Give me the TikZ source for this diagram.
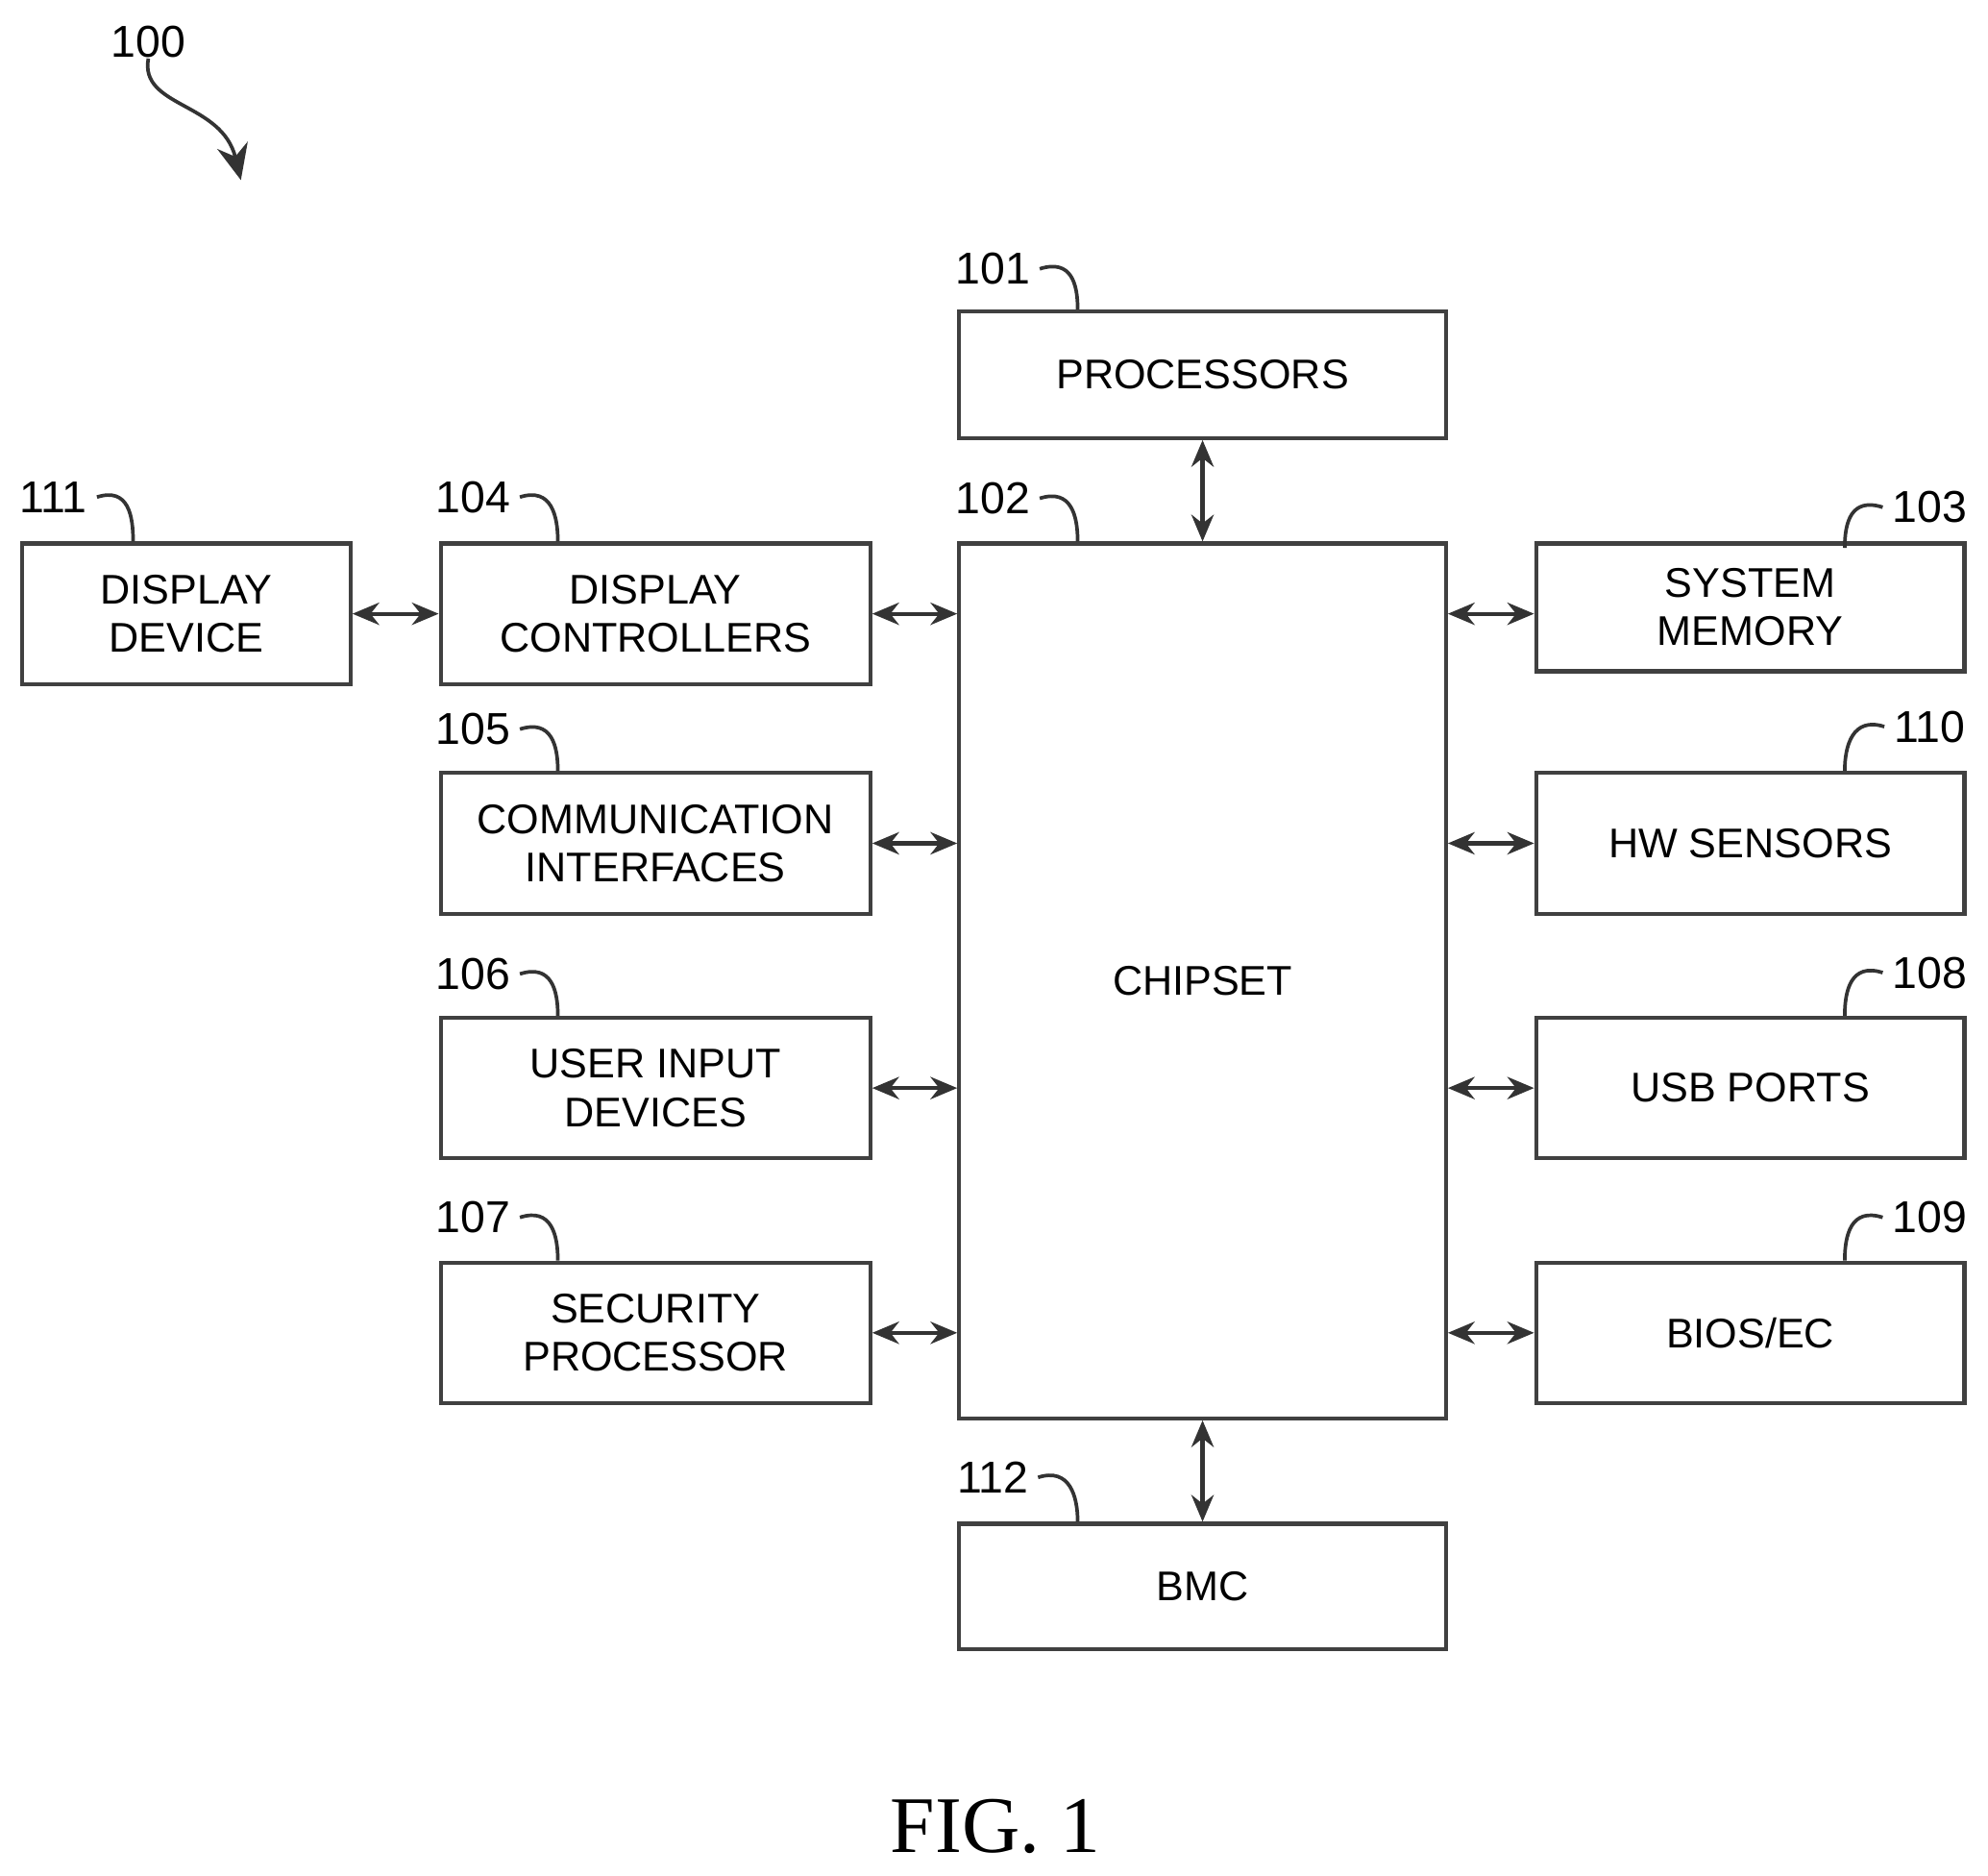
\documentclass[tikz,border=0pt]{standalone}
\usepackage{fontspec}
\setmainfont{Liberation Sans}
\usetikzlibrary{arrows.meta}
\begin{document}
\begin{tikzpicture}[x=0.01cm,y=-0.01cm,
 box/.style={draw=black!75,line width=0.9pt,inner sep=0pt,align=center,font=\fontsize{9.3}{10.8}\selectfont},
 lbl/.style={font=\fontsize{10}{11}\selectfont,inner sep=0pt},
 con/.style={{Stealth[length=6pt,width=5pt]}-{Stealth[length=6pt,width=5pt]},line width=0.9pt,black!80},
 lead/.style={line width=0.8pt,black!80}]
\useasboundingbox (0,0) rectangle (1568,1479);
\newcommand{\bx}[6]{\node[box,minimum width=#4*0.01cm-0.9pt,minimum height=#5*0.01cm-0.9pt] (#1) at (#2,#3) {#6};}
\bx{proc}{948.5}{295.5}{387}{103}{PROCESSORS}
\bx{chip}{948.5}{773.5}{387}{693}{CHIPSET}
\bx{bmc}{948.5}{1251}{387}{102}{BMC}
\bx{disp}{147}{484}{262}{114}{DISPLAY\\DEVICE}
\bx{dctl}{517}{484}{342}{114}{DISPLAY\\CONTROLLERS}
\bx{comm}{517}{665}{342}{114}{COMMUNICATION\\INTERFACES}
\bx{uid}{517}{858}{342}{114}{USER INPUT\\DEVICES}
\bx{sec}{517}{1051}{342}{114}{SECURITY\\PROCESSOR}
\bx{mem}{1380.5}{479}{341}{104}{SYSTEM\\MEMORY}
\bx{hw}{1380.5}{665}{341}{114}{HW SENSORS}
\bx{usb}{1380.5}{858}{341}{114}{USB PORTS}
\bx{bios}{1380.5}{1051}{341}{114}{BIOS/EC}
\draw[con] (proc.south) -- (chip.north);
\draw[con] (chip.south) -- (bmc.north);
\draw[con] (disp.east) -- (dctl.west);
\draw[con] (dctl.east) -- (chip.west |- dctl.east);
\draw[con] (comm.east) -- (chip.west |- comm.east);
\draw[con] (uid.east) -- (chip.west |- uid.east);
\draw[con] (sec.east) -- (chip.west |- sec.east);
\draw[con] (chip.east |- hw.west) -- (hw.west);
\draw[con] (chip.east |- usb.west) -- (usb.west);
\draw[con] (chip.east |- bios.west) -- (bios.west);
\coordinate (memc) at (1210,484);
\draw[con] (chip.east |- memc) -- (memc);
\node[lbl] (l100) at (117,33) {100};
\coordinate (a100) at (190,142);
\draw[lead,-{Stealth[length=8pt,width=7pt]}] (l100.south) .. controls (110,85) and (175,80) .. (a100);
\newcommand{\lab}[5]{\node[lbl] (#1) at (#2,#3) {#4}; \draw[lead] ([xshift=2pt]#1.east) .. controls ++(25,-8) and ++(0,-20) .. #5;}
\lab{l101}{783}{212}{101}{(850,244)}
\lab{l102}{783}{393}{102}{(850,427)}
\lab{l104}{373}{392}{104}{(440,427)}
\lab{l105}{373}{575}{105}{(440,608)}
\lab{l106}{373}{768}{106}{(440,801)}
\lab{l107}{373}{960}{107}{(440,994)}
\lab{l111}{42}{392}{111}{(105,427)}
\lab{l112}{783}{1165}{112}{(850,1200)}
\newcommand{\labr}[5]{\node[lbl] (#1) at (#2,#3) {#4}; \draw[lead] ([xshift=-2pt]#1.west) .. controls ++(-25,-8) and ++(0,-20) .. #5;}
\labr{l103}{1522}{400}{103}{(1455,432)}
\labr{l110}{1522}{573}{110}{(1455,608)}
\labr{l108}{1522}{767}{108}{(1455,801)}
\labr{l109}{1522}{960}{109}{(1455,994)}
\node[font=\fontspec{Liberation Serif}\fontsize{18}{20}\selectfont,inner sep=0pt] (fig) at (785,1440) {FIG. 1};
\end{tikzpicture}
\end{document}
